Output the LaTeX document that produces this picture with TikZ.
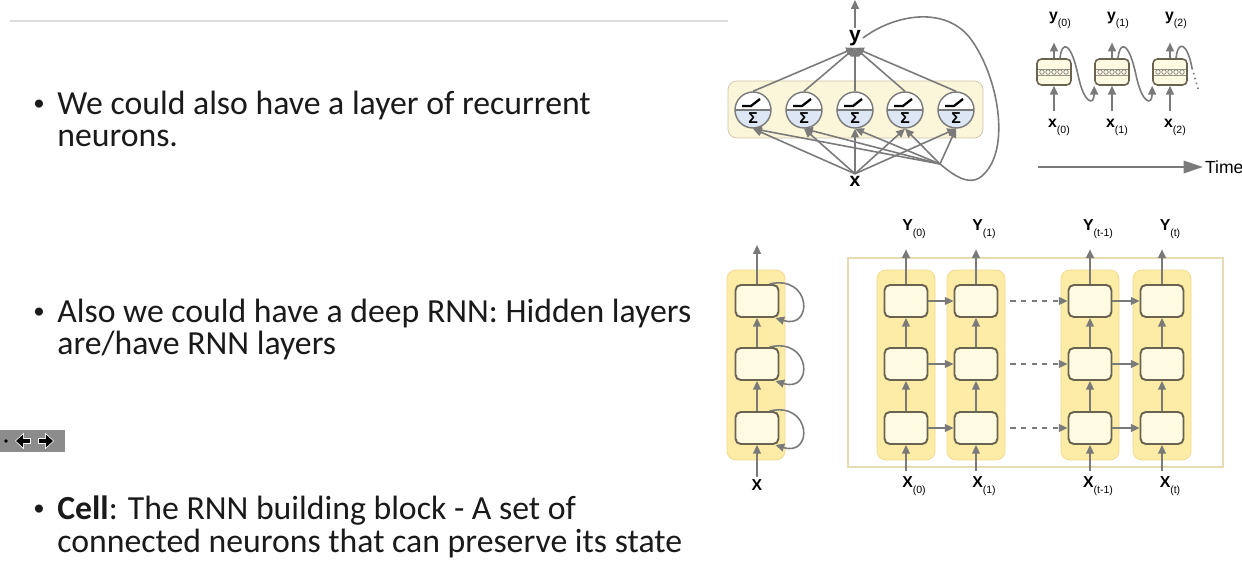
\documentclass[tikz,border=0pt]{standalone}
\usepackage{fontspec}
\setmainfont{Carlito}
\newfontfamily\lblfont{Liberation Sans}
\usetikzlibrary{arrows.meta,calc,positioning}

\definecolor{arrgray}{HTML}{7A7A7A}
\definecolor{celledge}{HTML}{6B6352}
\definecolor{cellfill}{HTML}{FFFBE3}
\definecolor{colfill}{HTML}{FCECA6}
\definecolor{coledge}{HTML}{F2D98A}
\definecolor{layerfill}{HTML}{FBF5D9}
\definecolor{layeredge}{HTML}{CFC3A8}
\definecolor{outeredge}{HTML}{E6DCB4}
\definecolor{neuronblue}{HTML}{DCE6F4}
\definecolor{rulegray}{HTML}{DDDDDD}
\definecolor{navgray}{HTML}{8C8C8C}
\definecolor{textgray}{HTML}{1A1A1A}

\newcommand\lsub[2]{#1\raisebox{-0.7ex}{\fontsize{6}{6}\selectfont\mdseries(#2)}}

\begin{document}
\begin{tikzpicture}[x=0.02cm, y=-0.02cm,
  bullet/.style={anchor=base west, inner sep=0pt, text=textgray, font=\fontsize{19.2}{22}\selectfont},
  dot/.style={anchor=base west, inner sep=0pt, text=textgray, font=\fontsize{13}{14}\selectfont},
  lbl/.style={font=\lblfont\bfseries\fontsize{9}{10}\selectfont, inner sep=1pt},
  arr/.style={draw=arrgray, line width=0.9pt, -{Triangle[length=5pt,width=4.5pt]}},
  neuron/.style={circle, draw=arrgray, line width=0.8pt, minimum size=0.72cm, inner sep=0pt, fill=white,
    path picture={
      \fill[neuronblue] (path picture bounding box.west) rectangle (path picture bounding box.south east);
      \draw[arrgray, line width=0.6pt] (path picture bounding box.west) -- (path picture bounding box.east);}},
  tcell/.style={rectangle, draw=celledge, fill=cellfill, line width=0.9pt, rounded corners=2.5pt,
    minimum width=0.68cm, minimum height=0.52cm},
  cell/.style={rectangle, draw=celledge, fill=cellfill, line width=1.1pt, rounded corners=3pt,
    minimum width=0.86cm, minimum height=0.64cm},
  column/.style={rectangle, draw=coledge, fill=colfill, rounded corners=5pt,
    minimum width=1.16cm, minimum height=3.8cm},
]
\useasboundingbox (0,0) rectangle (1242,574);

% slide text
\draw[rulegray, line width=1pt] (10,21) -- (728,21);
\node[dot] (d1) at (33,111) {•};
\node[bullet] (t1a) at (57,115) {We could also have a layer of recurrent};
\node[bullet] (t1b) at (57,147) {neurons.};
\node[dot] (d2) at (33,319) {•};
\node[bullet] (t2a) at (57,323) {Also we could have a deep RNN: Hidden layers};
\node[bullet] (t2b) at (57,355) {are/have RNN layers};
\node[dot] (d3) at (33,516) {•};
\node[bullet] (t3a) at (57,520) {\textbf{Cell}: The RNN building block - A set of};
\node[bullet] (t3b) at (57,552) {connected neurons that can preserve its state};

% navigation widget
\fill[navgray] (0,430) rectangle (65,452);
\fill[black] (6,441) circle (1pt);
\draw[white, line width=3.6pt, -{Triangle[length=5pt,width=9pt]}] (31,441) -- (15,441);
\draw[black, line width=2.4pt, -{Triangle[length=4pt,width=7pt]}] (30,441) -- (16,441);
\draw[white, line width=3.6pt, -{Triangle[length=5pt,width=9pt]}] (38,441) -- (54,441);
\draw[black, line width=2.4pt, -{Triangle[length=4pt,width=7pt]}] (39,441) -- (53,441);

% layer of recurrent neurons
\draw[layeredge, fill=layerfill, rounded corners=5pt] (728,81) rectangle (983,138);
\node[lbl, font=\lblfont\bfseries\fontsize{12}{12}\selectfont] (yout) at (855,38) {y};
\node[lbl, font=\lblfont\bfseries\fontsize{11}{11}\selectfont] (xin) at (855,181) {x};
\coordinate (ytop) at (855,0);
\coordinate (fb) at (940,164);
\draw[arr] (yout.north) -- (ytop);
\foreach \i/\cx in {1/753,2/804,3/855,4/905,5/956} {
  \node[neuron] (n\i) at (\cx,110) {};
  \draw[black, line width=1.3pt] ($(n\i.center)+(-11,-4)$) -- ++(9,0) -- ++(9,-7);
  \node[font=\lblfont\bfseries\fontsize{9}{9}\selectfont, inner sep=0pt] (s\i) at ($(n\i.center)+(0,8)$) {Σ};
  \draw[arr] (n\i.north) -- (yout.south);
  \draw[arr] (xin.north) -- (n\i.south);
  \draw[arr] (fb) -- (n\i.south);
}
\draw[arrgray, line width=0.9pt] (yout.east) .. controls (895,14) and (945,6) .. (970,38)
  .. controls (998,75) and (1012,150) .. (982,176) .. controls (968,188) and (950,172) .. (fb);

% unrolled through time
\foreach \i/\cx in {0/1054,1/1112,2/1170} {
  \node[tcell] (t\i) at (\cx,72) {};
  \draw[celledge!70, line width=0.4pt] ($(t\i.west)+(2,-3)$) -- ($(t\i.east)+(-2,-3)$);
  \draw[celledge!70, line width=0.4pt] ($(t\i.west)+(2,3)$) -- ($(t\i.east)+(-2,3)$);
  \foreach \k in {-12,-6,0,6,12}
    \draw[gray, line width=0.4pt] ($(t\i.center)+(\k,0)$) circle (1.3pt);
  \node[lbl] (ty\i) at (\cx+6,20) {\lsub{y}{\i}};
  \node[lbl] (tx\i) at (\cx+5,127) {\lsub{x}{\i}};
  \draw[arr, shorten >=7pt] (t\i.north) -- (t\i.north |- ty\i.south);
  \draw[arr, shorten <=3pt] (t\i.south |- tx\i.north) -- (t\i.south);
}
\draw[arr] ($(t0.north)+(6,0)$) .. controls (1062,40) and (1071,42) .. (1078,75)
  .. controls (1084,104) and (1094,106) .. (t1.south west);
\draw[arr] ($(t1.north)+(6,0)$) .. controls (1120,40) and (1129,42) .. (1136,75)
  .. controls (1142,104) and (1152,106) .. (t2.south west);
\draw[arrgray, line width=0.9pt] ($(t2.north)+(6,0)$) .. controls (1178,40) and (1187,42) .. (1192,68);
\draw[arrgray, line width=0.9pt, dotted] (1192,68) -- (1199,92);
\coordinate (tstart) at (1038,167);
\node[font=\lblfont\fontsize{10}{10}\selectfont, anchor=west, inner sep=1pt] (timelbl) at (1203,167) {Time};
\draw[arrgray, line width=1.3pt, -{Triangle[length=11pt,width=7pt]}] (tstart) -- (timelbl.west);

% deep RNN, folded
\node[column] (col0) at (756,365) {};
\foreach \j/\cy in {1/301,2/364,3/428}
  \node[cell] (h\j) at (757,\cy) {};
\coordinate (htop) at (757,245);
\node[lbl] (hx) at (757,485) {X};
\draw[arr] (h1.north) -- (htop);
\draw[arr] (h2.north) -- (h1.south);
\draw[arr] (h3.north) -- (h2.south);
\draw[arr] (hx.north) -- (h3.south);
\foreach \j in {1,2,3}
  \draw[arr] ([xshift=-0.2cm]h\j.north east) .. controls +(0.84cm,0.2cm) and +(0.76cm,-0.24cm) .. ([xshift=-0.08cm]h\j.south east);

% deep RNN, unrolled
\draw[outeredge, line width=0.8pt] (848,258) rectangle (1223,467);
\foreach \c/\cx/\s in {1/906/0,2/976/1,3/1090/t-1,4/1162/t} {
  \node[column] (col\c) at (\cx,365) {};
  \foreach \j/\cy in {1/301,2/364,3/428}
    \node[cell] (r\c\j) at (\cx,\cy) {};
  \node[lbl] (oy\c) at (\cx+8,229) {\lsub{Y}{\s}};
  \node[lbl] (ox\c) at (\cx+8,486) {\lsub{X}{\s}};
  \draw[arr, shorten >=5pt] (r\c1.north) -- (r\c1.north |- oy\c.south);
  \draw[arr] (r\c2.north) -- (r\c1.south);
  \draw[arr] (r\c3.north) -- (r\c2.south);
  \draw[arr, shorten <=2pt] (r\c3.south |- ox\c.north) -- (r\c3.south);
}
\foreach \j in {1,2,3} {
  \draw[arr] (r1\j.east) -- (r2\j.west);
  \draw[arr, dashed] ([xshift=0.24cm]r2\j.east) -- (r3\j.west);
  \draw[arr] (r3\j.east) -- (r4\j.west);
}
\end{tikzpicture}
\end{document}
